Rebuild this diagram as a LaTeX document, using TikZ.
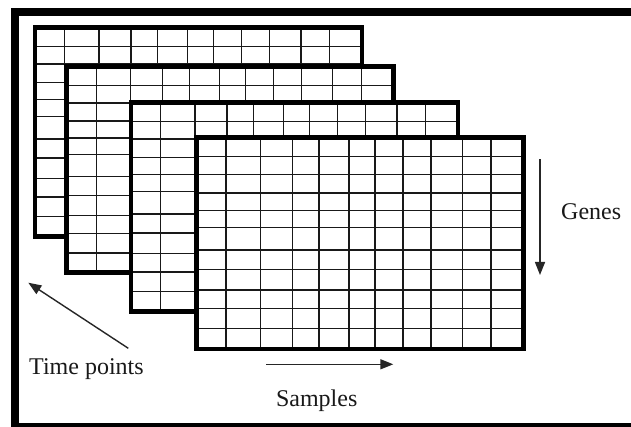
\documentclass[tikz,border=0pt]{standalone}
\usepackage{fontspec}
\setmainfont{Liberation Serif}
\usetikzlibrary{arrows.meta}
\tikzset{
  gridline/.style={line width=1.4pt, black!90},
  gridframe/.style={line width=4.5pt, black},
  outerframe/.style={line width=8pt, black},
  lbl/.style={font=\fontsize{24}{28}\selectfont, inner sep=0pt, text=black!90},
  arr/.style={line width=1.4pt, black!85, -{Triangle[length=13pt,width=10pt]}}
}
\newcommand\matgrid[3]{%
  \begin{scope}[shift={(#1,#2)}]
    \fill[white] (0,0) rectangle (327,#3);
    \foreach \gx in {29.5,64,96,122.5,152.5,178.5,206.5,234.5,266,294.5}
      \draw[gridline] (\gx,0) -- (\gx,#3);
    \foreach \gy in {19.4,37,55.7,73,90,112.5,131.7,152.5,171,190.7}{
      \pgfmathsetmacro\gyy{(\gy/211)*#3}
      \draw[gridline] (0,\gyy) -- (327,\gyy);}
    \draw[gridframe] (0,0) rectangle (327,#3);
  \end{scope}}
\begin{document}
\begin{tikzpicture}[x=1pt,y=-1pt]
  \clip (0,0) rectangle (631,427);
  \fill[white] (0,0) rectangle (631,427);
  \draw[outerframe] (15,12) rectangle (645,427);
  \matgrid{35}{27.3}{209.4}
  \matgrid{66.7}{66.7}{206}
  \matgrid{131}{102.3}{209.4}
  \matgrid{196.5}{137.3}{211.5}
  \node[lbl, anchor=base west] (time) at (29,374) {Time points};
  \node[lbl, anchor=base] (samples) at (316.7,406.7) {Samples};
  \node[lbl, anchor=base west] (genes) at (561,219.3) {Genes};
  \coordinate (tpS) at (128.3,348.3);
  \coordinate (tpE) at (28.3,282.7);
  \coordinate (smS) at (266,364.3);
  \coordinate (smE) at (393.3,364.3);
  \coordinate (gnS) at (540,159.3);
  \coordinate (gnE) at (540,275);
  \draw[arr] (tpS) -- (tpE);
  \draw[arr] (smS) -- (smE);
  \draw[arr] (gnS) -- (gnE);
\end{tikzpicture}
\end{document}
